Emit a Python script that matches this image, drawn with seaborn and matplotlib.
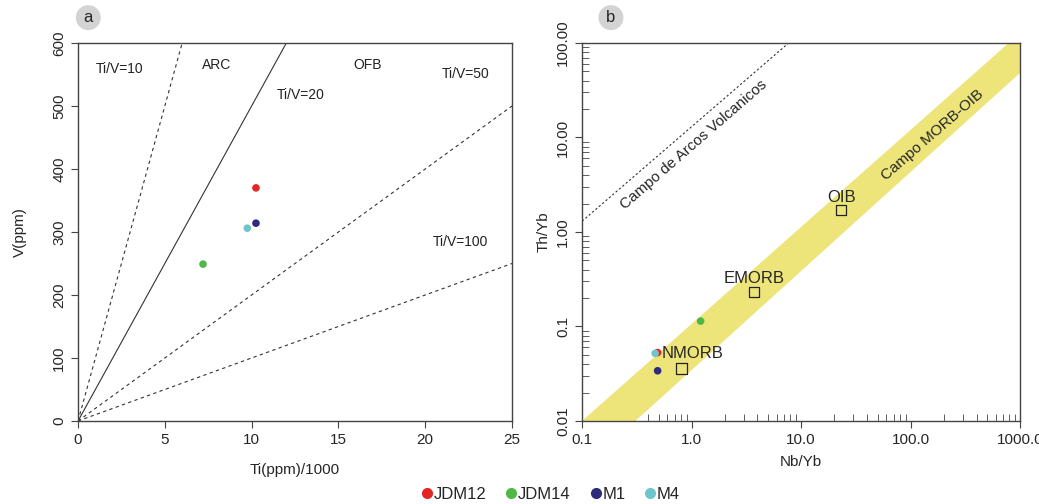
import numpy as np
import pandas as pd
import matplotlib.pyplot as plt
import seaborn as sns
from matplotlib.lines import Line2D

# samples
samples = ['JDM12', 'JDM14', 'M1', 'M4']
colors = ['#e32727', '#4db848', '#2e2b7c', '#6ec6cb']

# panel a: Ti(ppm)/1000 vs V(ppm)
ti = [10.25, 7.2, 10.25, 9.75]
v = [370, 249, 314, 306]

# panel b: Nb/Yb vs Th/Yb
nb_yb = [0.49, 1.21, 0.49, 0.465]
th_yb = [0.053, 0.114, 0.034, 0.052]

# reference compositions (panel b)
ref_names = ['NMORB', 'EMORB', 'OIB']
ref_nb = [0.81, 3.7, 23.3]
ref_th = [0.036, 0.23, 1.7]

# Ti/V ratio lines
tiv_ratios = [10, 20, 50, 100]

# MORB-OIB array edges and volcanic arc boundary (Nb/Yb, Th/Yb)
band_upper = [(0.1, 0.01), (787, 100)]
band_lower = [(0.307, 0.01), (1000, 48.3)]
arc_line = [(0.1, 1.3), (7.7, 100)]

df_a = pd.DataFrame({'sample': samples, 'ti': ti, 'v': v})
df_b = pd.DataFrame({'sample': samples, 'nb': nb_yb, 'th': th_yb})
pal = dict(zip(samples, colors))

sns.set_style("ticks")
plt.rcParams['font.family'] = ['Liberation Sans', 'DejaVu Sans']
axcol = '#444444'

fig = plt.figure(figsize=(10.39, 5.04), dpi=100)
ax1 = fig.add_axes([0.0751, 0.1647, 0.4177, 0.75])
ax2 = fig.add_axes([0.5602, 0.1647, 0.4216, 0.75])

# ---- panel a ----
xs = np.array([0, 25])
for r in tiv_ratios:
    ls = '-' if r == 20 else (0, (3, 3))
    ax1.plot(xs, xs * 1000 / r, color='#333333', lw=0.8, linestyle=ls)
sns.scatterplot(data=df_a, x='ti', y='v', hue='sample', palette=pal, s=30,
                edgecolor='none', legend=False, ax=ax1, zorder=3)
ax1.set_xlim(0, 25)
ax1.set_ylim(0, 600)
ax1.set_xticks([0, 5, 10, 15, 20, 25])
ax1.set_yticks([0, 100, 200, 300, 400, 500, 600])
for lab in ax1.get_yticklabels():
    lab.set_rotation(90)
    lab.set_va('center')
ax1.set_xlabel('Ti(ppm)/1000', fontsize=11, labelpad=12)
ax1.set_ylabel('V(ppm)', fontsize=11, labelpad=18)

txt = dict(fontsize=10, color='#222222', ha='center', va='center')
ax1.text(2.4, 558, 'Ti/V=10', **txt)
ax1.text(8.0, 565, 'ARC', **txt)
ax1.text(16.7, 565, 'OFB', **txt)
ax1.text(22.3, 551, 'Ti/V=50', **txt)
ax1.text(12.8, 518, 'Ti/V=20', **txt)
ax1.text(22.0, 284, 'Ti/V=100', **txt)

# ---- panel b ----
ax2.set_xscale('log')
ax2.set_yscale('log')
ax2.set_xlim(0.1, 1000)
ax2.set_ylim(0.01, 100)

poly = band_upper + [(1000, 100)] + band_lower[::-1]
ax2.fill([p[0] for p in poly], [p[1] for p in poly], color='#ede47a',
         lw=0, zorder=1)
ax2.plot([p[0] for p in arc_line], [p[1] for p in arc_line], color='#333333',
         lw=0.8, linestyle=(0, (2, 2)))

sns.scatterplot(x=ref_nb, y=ref_th, marker='s', s=55, facecolor='none',
                edgecolor='#222222', linewidth=0.9, ax=ax2, zorder=3)
sns.scatterplot(data=df_b, x='nb', y='th', hue='sample', palette=pal, s=30,
                edgecolor='none', legend=False, ax=ax2, zorder=4)

ax2.text(0.53, 0.052, 'NMORB', fontsize=12, ha='left', va='center')
ax2.text(3.7, 0.265, 'EMORB', fontsize=12, ha='center', va='bottom')
ax2.text(23.3, 1.95, 'OIB', fontsize=12, ha='center', va='bottom')
ax2.text(1.05, 8.3, 'Campo de Arcos Volcanicos', fontsize=11, rotation=41,
         ha='center', va='center', rotation_mode='anchor')
ax2.text(160, 10.5, 'Campo MORB-OIB', fontsize=11, rotation=41,
         ha='center', va='center', rotation_mode='anchor')

ax2.set_xticks([0.1, 1, 10, 100, 1000])
ax2.set_xticklabels(['0.1', '1.0', '10.0', '100.0', '1000.0'])
ax2.set_yticks([0.01, 0.1, 1, 10, 100])
ax2.set_yticklabels(['0.01', '0.1', '1.00', '10.00', '100.00'])
for lab in ax2.get_yticklabels():
    lab.set_rotation(90)
    lab.set_va('center')
ax2.tick_params(which='minor', direction='in', length=5, color=axcol)
ax2.set_xlabel('Nb/Yb', fontsize=11, labelpad=6)
ax2.set_ylabel('Th/Yb', fontsize=11, labelpad=4)

for ax in (ax1, ax2):
    for sp in ax.spines.values():
        sp.set_color(axcol)
        sp.set_linewidth(1.0)
    ax.tick_params(which='major', direction='out', length=5, color=axcol,
                   labelsize=11)

# panel tags
for x, t in [(0.085, 'a'), (0.588, 'b')]:
    fig.text(x, 0.965, t, fontsize=12, ha='center', va='center',
             bbox=dict(boxstyle='circle,pad=0.3', fc='#d3d3d3', ec='none'))

handles = [Line2D([], [], marker='o', color=c, lw=0, markersize=7)
           for c in colors]
fig.legend(handles, samples, loc='lower center', ncol=4, frameon=False,
           bbox_to_anchor=(0.528, -0.025), fontsize=12, handletextpad=-0.2,
           columnspacing=0.9, handlelength=1.2)

fig.savefig('out.png', dpi=100)
